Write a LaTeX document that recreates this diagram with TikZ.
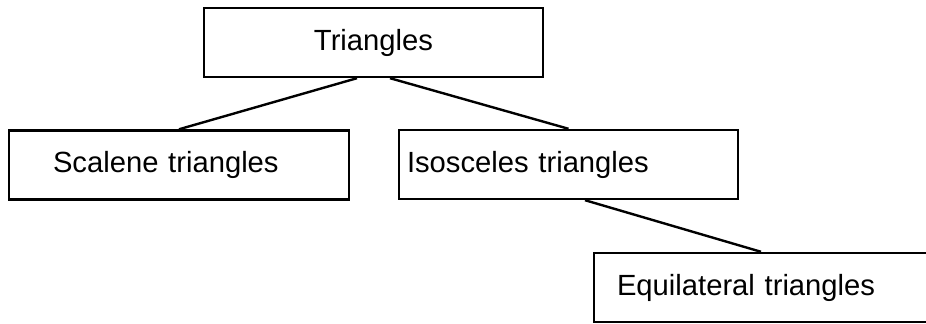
\documentclass[tikz,border=0pt]{standalone}
\usepackage{fontspec}
\setmainfont{Liberation Sans}
\usetikzlibrary{calc}

\begin{document}
\begin{tikzpicture}[x=0.5pt, y=-0.5pt,
		catbox/.style={draw, line width=1.2pt, rectangle, minimum height=34.5pt, inner ysep=0pt, font=\fontsize{14.6}{17}\selectfont},
		link/.style={line width=1.2pt}]
		%%%%% START %%%%%
		
		\clip (0, 0) rectangle (926, 324);
		
		\node[catbox, minimum width=169.5pt, align=center] (tri) at (373.5, 42.5) {Triangles};
		
		\node[catbox, text width=126pt, inner xsep=22pt, align=left] (scal) at (179, 165) {Scalene triangles};
		\node[catbox, text width=161.5pt, inner xsep=4pt, align=left] (iso) at (568.5, 164.5) {Isosceles triangles};
		
		\node[catbox, text width=144pt, inner xsep=11.5pt, align=left] (equi) at (761, 287.5) {Equilateral triangles};
		
		\draw[link] ($(tri.south)+(-16.5, 0)$) -- (scal.north);
		\draw[link] ($(tri.south)+(16.5, 0)$) -- (iso.north);
		\draw[link] ($(iso.south)+(16.5, 0)$) -- (equi.north);
		
		%%%%% END %%%%%
	\end{tikzpicture}
\end{document}
